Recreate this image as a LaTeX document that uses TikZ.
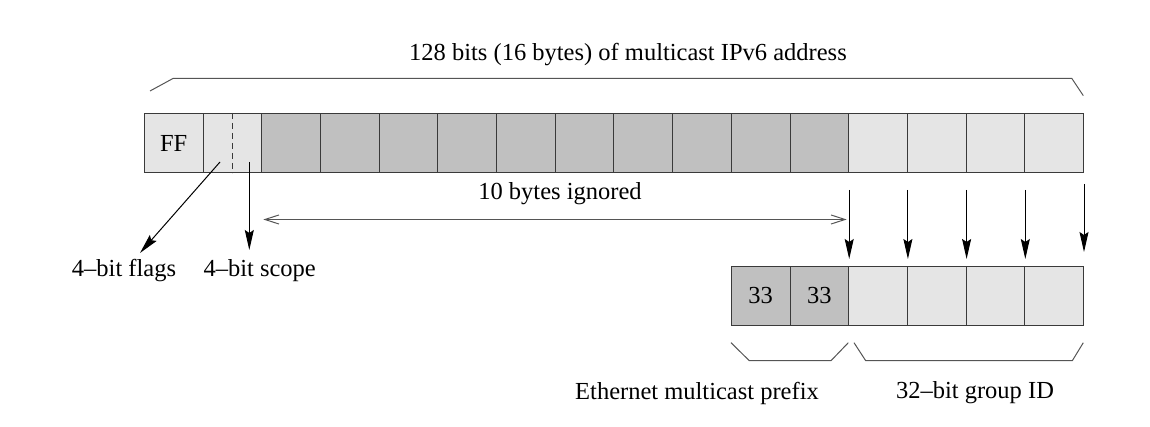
\documentclass[tikz,border=0pt]{standalone}
\usepackage{fontspec}
\setmainfont{Liberation Serif}
\usetikzlibrary{arrows.meta}
\definecolor{darkcell}{HTML}{C0C0C0}
\definecolor{lightcell}{HTML}{E5E5E5}
\definecolor{edge}{HTML}{3A3A3A}
\definecolor{brace}{HTML}{555555}
\tikzset{
  cell/.style={draw=edge, line width=1pt, minimum width=58.7pt, minimum height=59pt, inner sep=0pt, anchor=center},
  dcell/.style={cell, fill=darkcell},
  lcell/.style={cell, fill=lightcell},
  lbl/.style={font=\fontsize{24.5}{29}\selectfont, inner sep=0pt},
  bracestyle/.style={draw=brace, line width=1pt},
  down/.style={draw=black, line width=1pt, -{Stealth[length=20pt, width=9pt, inset=3pt]}},
  span/.style={draw=brace, line width=1pt, {Straight Barb[length=14pt, width=9pt]}-{Straight Barb[length=14pt, width=9pt]}}
}
\begin{document}
\begin{tikzpicture}[x=1pt, y=-1pt]
\useasboundingbox (0,0) rectangle (1150,427);
% top row
\foreach \i in {1,...,16} {
  \pgfmathsetmacro{\cx}{144.3 + (\i-0.5)*58.7}
  \ifnum\i<3
    \node[lcell] (t\i) at (\cx,143) {};
  \else\ifnum\i<13
    \node[dcell] (t\i) at (\cx,143) {};
  \else
    \node[lcell] (t\i) at (\cx,143) {};
  \fi\fi
}
\node[lbl] (ff) at (t1.center) {FF};
\draw[edge, line width=1pt, dash pattern=on 6pt off 4pt] (t2.north) -- (t2.south);
% bottom row
\foreach \j/\k in {1/11,2/12,3/13,4/14,5/15,6/16} {
  \pgfmathsetmacro{\cx}{144.3 + (\k-0.5)*58.7}
  \ifnum\j<3
    \node[dcell] (b\j) at (\cx,296) {};
  \else
    \node[lcell] (b\j) at (\cx,296) {};
  \fi
}
\node[lbl] (n33a) at (b1.center) {33};
\node[lbl] (n33b) at (b2.center) {33};
% top brace and title
\node[lbl] (title) at (628,55) {128 bits (16 bytes) of multicast IPv6 address};
\draw[bracestyle] (150,91) -- (173.3,78.3) -- (1071.7,78.3) -- (1083.3,95.7);
% flags / scope arrows
\node[lbl] (flags) at (124,271) {4–bit flags};
\node[lbl] (scope) at (259.7,271) {4–bit scope};
\coordinate (fstart) at (220,162);
\coordinate (fend) at (140,253);
\coordinate (sstart) at (249.3,162);
\coordinate (send) at (249.3,250);
\draw[down] (fstart) -- (fend);
\draw[down] (sstart) -- (send);
% ignored span
\node[lbl] (ign) at (560,194) {10 bytes ignored};
\coordinate (ignL) at (263.3,219.5);
\coordinate (ignR) at (846.7,219.5);
\draw[span] (ignL) -- (ignR);
% vertical mapping arrows
\foreach \k/\j in {12/2,13/3,14/4,15/5} {
  \draw[down] ([yshift=-17pt]t\k.south east) -- ([yshift=7pt]b\j.north east);
}
\draw[down] ([yshift=-11pt]t16.south east) -- ([yshift=14pt]b6.north east);
% bottom braces
\draw[bracestyle] (731,342.7) -- (749.3,360.7) -- (831,360.7) -- (848.3,342.7);
\draw[bracestyle] (854,342.7) -- (865.7,360.7) -- (1072.3,360.7) -- (1083.3,342.7);
\node[lbl] (eth) at (697,393) {Ethernet multicast prefix};
\node[lbl] (gid) at (975,393) {32–bit group ID};
\end{tikzpicture}
\end{document}
